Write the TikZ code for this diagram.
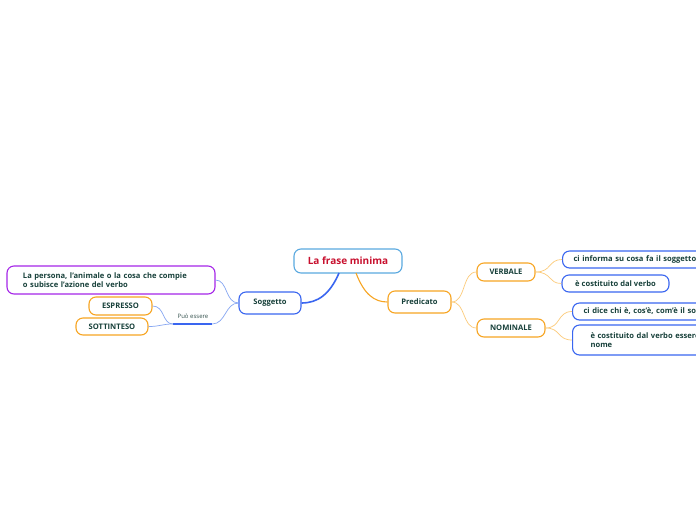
\documentclass[tikz,border=0pt]{standalone}
\usepackage{fontspec}
\setmainfont{Open Sans}
\definecolor{txt}{HTML}{17403A}
\definecolor{ctr}{HTML}{5AA9E0}
\definecolor{crim}{HTML}{C8102E}
\definecolor{bl}{HTML}{3A66F0}
\definecolor{lbl}{HTML}{86A6F2}
\definecolor{org}{HTML}{F7A523}
\definecolor{lorg}{HTML}{FCCB7A}
\definecolor{pur}{HTML}{A526E8}
\tikzset{
  box/.style={draw, rounded corners=7pt, line width=1.1pt, fill=white, text=txt,
    font=\fontsize{7.6}{9.6}\selectfont\bfseries, inner sep=0pt, align=center},
  obox/.style={box, draw=org},
  bbox/.style={box, draw=bl},
  lnk/.style={line width=0.7pt},
}
\begin{document}
\begin{tikzpicture}[x=1pt,y=-1pt]
\useasboundingbox (0,0) rectangle (696,520);
\clip (0,0) rectangle (696,520);
\fill[white] (0,0) rectangle (696,520);
% nodes
\node[box, draw=ctr, text=crim, font=\fontsize{10}{12}\selectfont\bfseries,
  minimum width=108pt, minimum height=24pt] (central) at (348,261) {La frase minima};
\node[bbox, minimum width=62pt, minimum height=22pt] (sogg) at (270,303) {Soggetto};
\node[obox, minimum width=63pt, minimum height=22pt] (pred) at (419.5,302) {Predicato};
\node[box, draw=pur, minimum width=208pt, minimum height=28pt, align=left,
  text width=176pt] (persona) at (111,280) {La persona, l'animale o la cosa che compie\\o subisce l'azione del verbo};
\node[obox, minimum width=63pt, minimum height=18pt] (espr) at (120.5,306) {ESPRESSO};
\node[obox, minimum width=72pt, minimum height=17pt] (sott) at (112,326.5) {SOTTINTESO};
\node[obox, minimum width=58pt, minimum height=18pt] (verb) at (506,272) {VERBALE};
\node[obox, minimum width=68pt, minimum height=18pt] (nomi) at (511,328) {NOMINALE};
\node[bbox, anchor=west, minimum width=160pt, minimum height=17pt, align=left,
  text width=138pt] (inf) at (562,259.5) {ci informa su cosa fa il soggetto};
\node[bbox, minimum width=107pt, minimum height=17pt] (cost) at (615.5,283.5) {è costituito dal verbo};
\node[bbox, anchor=west, minimum width=160pt, minimum height=17pt, align=left,
  text width=138pt] (dice) at (572,311.5) {ci dice chi è, cos'è, com'è il soggetto};
\node[bbox, anchor=west, minimum width=160pt, minimum height=30pt, align=left,
  text width=124pt] (ess) at (572,340) {è costituito dal verbo essere +\\nome};
% Può essere
\node[font=\fontsize{6}{6}\selectfont, text=txt!70!gray, inner sep=0pt] (pe) at (193,316.5) {Può essere};
\coordinate (pel) at (173,324);
\coordinate (per) at (212,324);
\coordinate (cb1) at (339,273);
\coordinate (cb2) at (356,273);
% connectors
\draw[bl, line width=1.6pt] (cb1) .. controls (330,294) and (318,303) .. (sogg.east);
\draw[org, line width=1.1pt] (cb2) .. controls (364,294) and (374,302) .. (pred.west);
\draw[bl, line width=1.6pt] (pel) -- (per);
\draw[lbl, lnk] (sogg.west) .. controls (225,303) and (228,280) .. (persona.east);
\draw[lbl, lnk] (sogg.west) .. controls (225,303) and (226,324) .. (per);
\draw[lbl, lnk] (pel) .. controls (162,324) and (165,306) .. (espr.east);
\draw[lbl, lnk] (pel) .. controls (162,324) and (160,326.5) .. (sott.east);
\draw[lorg, lnk] (pred.east) .. controls (466,302) and (462,272) .. (verb.west);
\draw[lorg, lnk] (pred.east) .. controls (466,302) and (462,328) .. (nomi.west);
\draw[lorg, lnk] (verb.east) .. controls (552,272) and (548,259.5) .. (inf.west);
\draw[lorg, lnk] (verb.east) .. controls (552,272) and (548,283.5) .. (cost.west);
\draw[lorg, lnk] (nomi.east) .. controls (561,328) and (557,311.5) .. (dice.west);
\draw[lorg, lnk] (nomi.east) .. controls (561,328) and (557,340) .. (ess.west);
\end{tikzpicture}
\end{document}
